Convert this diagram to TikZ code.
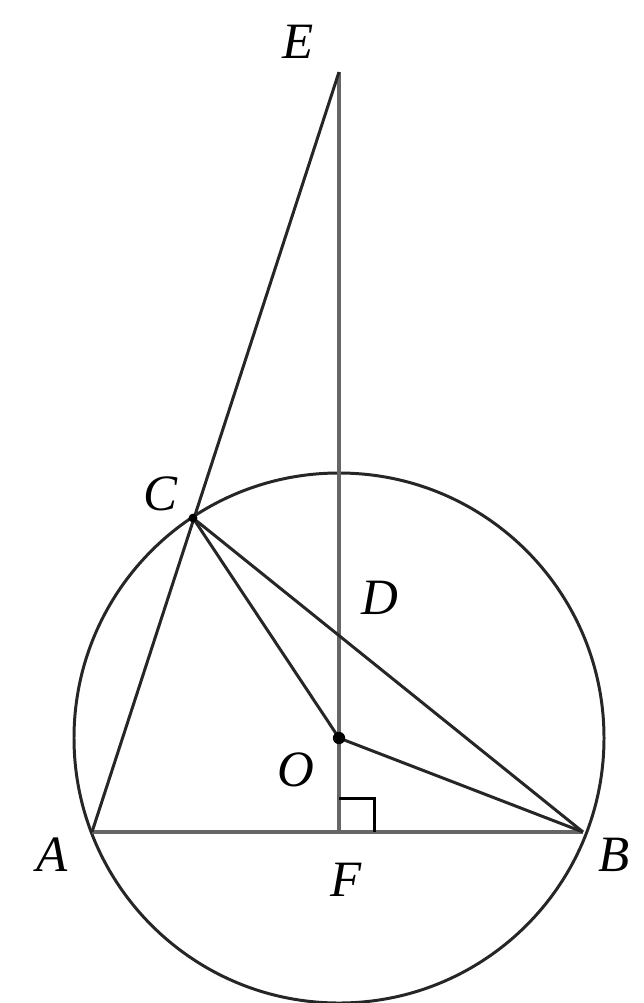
\documentclass[tikz,border=0pt]{standalone}
\usepackage{fontspec}
\setmainfont{Liberation Serif}
\usepackage{tikz}
\usetikzlibrary{calc}

\begin{document}
\begin{tikzpicture}[
    x=0.02cm, y=-0.02cm,
    edge/.style={line width=1.7pt, color=black!85},
    axis/.style={line width=2.2pt, color=black!60},
    ptlabel/.style={font=\fontsize{29}{31}\selectfont\itshape, inner sep=0pt},
    dot/.style={circle, fill=black, inner sep=0pt, minimum size=7pt}
]
\useasboundingbox (0,0) rectangle (643,1003);

% points
\coordinate (O) at (339,738);
\coordinate (A) at (92,832);
\coordinate (B) at (583,832);
\coordinate (F) at (339,832);
\coordinate (C) at (193,518);
\coordinate (E) at (339,72);
\coordinate (D) at (339,636);

% circle and lines
\draw[edge] (O) circle (265);
\draw[axis] (A) -- (B);
\draw[axis] (E) -- (F);
\draw[edge] (A) -- (E);
\draw[edge] (C) -- (B);
\draw[edge] (C) -- (O);
\draw[edge] (O) -- (B);
\draw[edge, color=black] (F) ++(0,-34) -- ++(35,0) -- ++(0,34);

\node[dot] at (O) {};
\node[dot, minimum size=5pt] at (C) {};

% labels
\node[ptlabel] (lE) at (298,42) {E};
\node[ptlabel] (lC) at (160,494) {C};
\node[ptlabel] (lD) at (380,598) {D};
\node[ptlabel] (lO) at (296,770) {O};
\node[ptlabel] (lA) at (52,855) {A};
\node[ptlabel] (lB) at (614,855) {B};
\node[ptlabel] (lF) at (346,880) {F};

\end{tikzpicture}
\end{document}
